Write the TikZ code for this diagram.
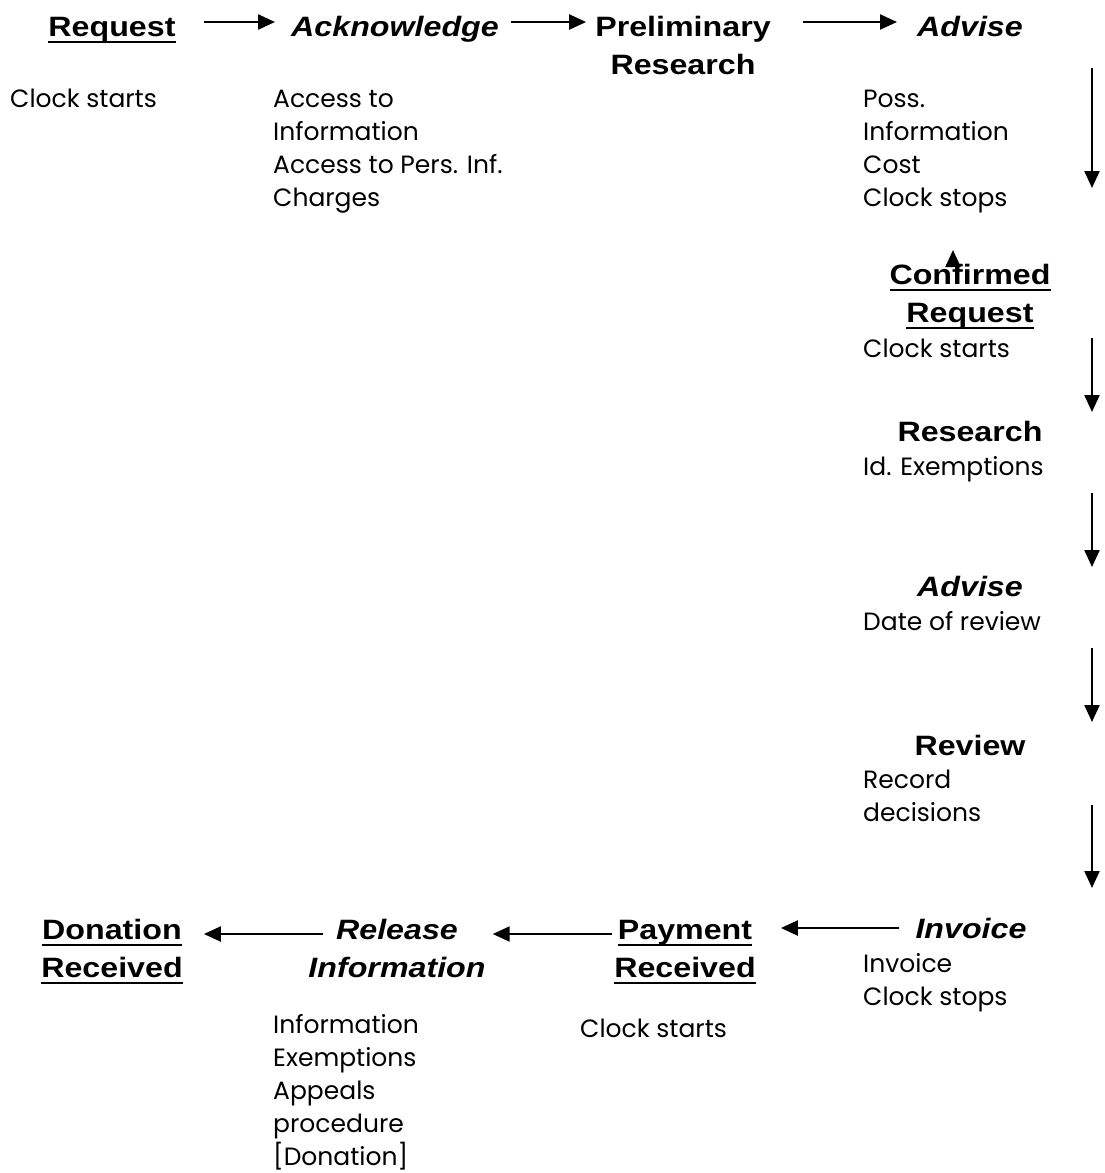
\documentclass[tikz,border=0pt]{standalone}
\usepackage{fontspec}
\setmainfont{Poppins}
\newfontfamily\hdfont[FakeStretch=1.15]{Liberation Sans}
\newcommand\myul[1]{\setbox0\hbox{#1}\rlap{\vrule width\wd0 height -5pt depth 7.2pt}\box0}
\usetikzlibrary{arrows.meta}
\begin{document}
\begin{tikzpicture}[x=1pt,y=-1pt,
 hd/.style={font=\hdfont\bfseries\fontsize{28}{38}\selectfont, align=center, inner sep=0pt, anchor=base},
 hdi/.style={hd, font=\hdfont\bfseries\itshape\fontsize{28}{38}\selectfont},
 bd/.style={font=\fontsize{25}{33}\selectfont, align=left, anchor=base west, inner sep=0pt},
 arr/.style={line width=2.3pt, -{Triangle[length=17pt,width=15pt]}}]
\useasboundingbox (0,0) rectangle (1104,1173);
% top row (multi-line nodes are placed at the baseline of their last line)
\node[hd]  (req) at (112,36) {\myul{Request}};
\node[hdi] (ack) at (395,36) {Acknowledge};
\node[hd]  (pre) at (683,74) {Preliminary\\Research};
\node[hdi] (adv) at (970,36) {Advise};
\node[bd] (reqb) at (10,107) {Clock starts};
\node[bd] (ackb) at (273,206) {Access to\\Information\\Access to Pers. Inf.\\Charges};
\node[bd] (advb) at (863,206) {Poss.\\Information\\Cost\\Clock stops};
% right column
\node[hd]  (con) at (970,322) {\myul{Confirmed}\\\myul{Request}};
\node[bd] (conb) at (863,357) {Clock starts};
\node[hd]  (res) at (970,441) {Research};
\node[bd] (resb) at (863,475) {Id. Exemptions};
\node[hdi] (adv2) at (970,596) {Advise};
\node[bd] (adv2b) at (863,630) {Date of review};
\node[hd]  (rev) at (970,755) {Review};
\node[bd] (revb) at (863,821) {Record\\decisions};
% bottom row
\node[hdi] (inv) at (971,938) {Invoice};
\node[bd] (invb) at (863,1005) {Invoice\\Clock stops};
\node[hd]  (pay) at (685,977) {\myul{Payment}\\\myul{Received}};
\node[bd] (payb) at (580,1037) {Clock starts};
\node[hdi] (rel) at (397,977) {Release\\Information};
\node[bd] (relb) at (273,1165) {Information\\Exemptions\\Appeals\\procedure\\{[Donation]}};
\node[hd]  (don) at (112,977) {\myul{Donation}\\\myul{Received}};
% coordinates
\coordinate (rowA) at (0,22);
\coordinate (rowB) at (0,934);
\coordinate (rowC) at (0,928);
\coordinate (d1s) at (1092,68);  \coordinate (d1e) at (1092,188);
\coordinate (d2s) at (1092,338); \coordinate (d2e) at (1092,412);
\coordinate (d3s) at (1092,493); \coordinate (d3e) at (1092,567);
\coordinate (d4s) at (1092,648); \coordinate (d4e) at (1092,722);
\coordinate (d5s) at (1092,805); \coordinate (d5e) at (1092,888);
\coordinate (up1) at (953,265);  \coordinate (up2) at (953,250);
% connectors
\draw[arr] ([xshift=28pt]req.east |- rowA) -- ([xshift=-16pt]ack.west |- rowA);
\draw[arr] ([xshift=12pt]ack.east |- rowA) -- ([xshift=-9pt]pre.west |- rowA);
\draw[arr] ([xshift=32pt]pre.east |- rowA) -- ([xshift=-20pt]adv.west |- rowA);
\draw[arr] (d1s) -- (d1e);
\draw[arr] (d2s) -- (d2e);
\draw[arr] (d3s) -- (d3e);
\draw[arr] (d4s) -- (d4e);
\draw[arr] (d5s) -- (d5e);
\draw[arr] (up1) -- (up2);
\draw[arr] ([xshift=-16pt]inv.west |- rowC) -- ([xshift=25pt]pay.east |- rowC);
\draw[arr] ([xshift=-2pt]pay.west |- rowB) -- ([xshift=7pt]rel.east |- rowB);
\draw[arr] ([xshift=15pt]rel.west |- rowB) -- ([xshift=21pt]don.east |- rowB);
\end{tikzpicture}
\end{document}
